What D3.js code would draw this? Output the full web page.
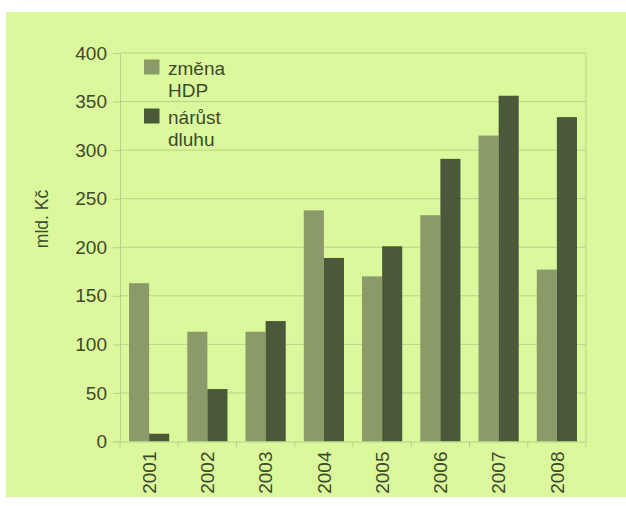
<!DOCTYPE html>
<html>
<head>
<meta charset="utf-8">
<script src="https://cdn.jsdelivr.net/npm/d3@7"></script>
<style>
  html, body { margin: 0; padding: 0; background: #ffffff; }
  svg { display: block; }
  text { font-family: "Liberation Sans", Arial, sans-serif; fill: #3d4a2c; }
</style>
</head>
<body>
<svg id="chart" width="626" height="506"></svg>
<script>
// Roky, změna HDP a nárůst dluhu (mld. Kč)
const years = ["2001", "2002", "2003", "2004", "2005", "2006", "2007", "2008"];
const zmenaHDP = [163, 113, 113, 238, 170, 233, 315, 177];
const narustDluhu = [8, 54, 124, 189, 201, 291, 356, 334];
const seriesNames = ["změna HDP", "nárůst dluhu"];
const yTicks = [0, 50, 100, 150, 200, 250, 300, 350, 400];

const colors = ["#8a9a68", "#4a5939"];
const gridColor = "#b9d189";
const fontFamily = "'Liberation Sans', Arial, sans-serif";

const svg = d3.select("#chart");

// papírové pozadí
svg.append("rect")
  .attr("x", 6).attr("y", 12)
  .attr("width", 620).attr("height", 485)
  .attr("fill", "#dcf89c");

const plot = { left: 120, right: 586, top: 53, bottom: 441.5 };

const x0 = d3.scaleBand()
  .domain(years)
  .range([plot.left, plot.right])
  .paddingInner(0.31)
  .paddingOuter(0.155);

const x1 = d3.scaleBand()
  .domain([0, 1])
  .range([0, x0.bandwidth()]);

const y = d3.scaleLinear()
  .domain([0, 400])
  .range([plot.bottom, plot.top]);

// mřížka
svg.append("g")
  .selectAll("line")
  .data(yTicks.filter(d => d > 0))
  .join("line")
  .attr("x1", plot.left).attr("x2", plot.right)
  .attr("y1", d => y(d)).attr("y2", d => y(d))
  .attr("stroke", gridColor).attr("stroke-width", 1);

// pravý okraj plochy grafu
svg.append("line")
  .attr("x1", plot.right).attr("x2", plot.right)
  .attr("y1", plot.top).attr("y2", plot.bottom)
  .attr("stroke", gridColor);

// sloupce
const rows = years.map((yr, i) => ({ year: yr, values: [zmenaHDP[i], narustDluhu[i]] }));

svg.append("g")
  .selectAll("g")
  .data(rows)
  .join("g")
  .attr("transform", d => `translate(${x0(d.year)},0)`)
  .selectAll("rect")
  .data(d => d.values.map((v, k) => ({ k, v })))
  .join("rect")
  .attr("x", d => x1(d.k))
  .attr("width", x1.bandwidth())
  .attr("y", d => y(d.v))
  .attr("height", d => y(0) - y(d.v))
  .attr("fill", d => colors[d.k]);

// osa Y
const yAxis = svg.append("g")
  .attr("transform", `translate(${plot.left},0)`)
  .call(d3.axisLeft(y).tickValues(yTicks).tickSize(7).tickPadding(6));
yAxis.select(".domain").attr("stroke", gridColor);
yAxis.selectAll(".tick line").attr("stroke", gridColor);
yAxis.selectAll(".tick text")
  .attr("font-size", 19)
  .style("font-family", fontFamily)
  .attr("fill", "#3d4a2c");

// osa X
const xAxis = svg.append("g")
  .attr("transform", `translate(0,${plot.bottom})`)
  .call(d3.axisBottom(x0).tickSize(0).tickPadding(0));
xAxis.select(".domain").attr("stroke", gridColor);
xAxis.selectAll(".tick text")
  .attr("font-size", 19)
  .style("font-family", fontFamily)
  .attr("fill", "#3d4a2c")
  .attr("text-anchor", "end")
  .attr("dy", "0.35em")
  .attr("transform", "translate(0,10) rotate(-90)")
  .attr("y", 0).attr("x", 0);

// dělicí značky mezi kategoriemi
const step = x0.step();
svg.append("g")
  .selectAll("line")
  .data(d3.range(years.length + 1))
  .join("line")
  .attr("x1", i => x0(years[0]) - x0.paddingOuter() * step + i * step)
  .attr("x2", i => x0(years[0]) - x0.paddingOuter() * step + i * step)
  .attr("y1", plot.bottom).attr("y2", plot.bottom + 6)
  .attr("stroke", gridColor);

// popisek osy Y
svg.append("text")
  .attr("transform", `translate(48,219) rotate(-90)`)
  .attr("text-anchor", "middle")
  .attr("font-size", 17.5)
  .text("mld. Kč");

// legenda
const legendLines = [["změna", "HDP"], ["nárůst", "dluhu"]];
const legend = svg.append("g").attr("transform", "translate(144,0)");
legendLines.forEach((lines, k) => {
  const top = 60 + k * 49;
  legend.append("rect")
    .attr("x", 0).attr("y", top - 0.5)
    .attr("width", 15.5).attr("height", 15)
    .attr("fill", colors[k]);
  lines.forEach((t, j) => {
    legend.append("text")
      .attr("x", 24).attr("y", top + 15 + j * 22)
      .attr("font-size", 19)
      .text(t);
  });
});
</script>
</body>
</html>
